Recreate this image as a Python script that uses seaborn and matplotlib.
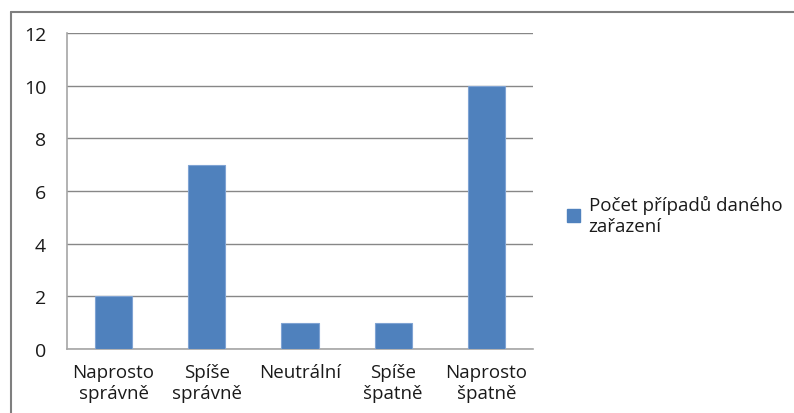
import matplotlib
matplotlib.use("Agg")
import matplotlib.pyplot as plt
import numpy as np
import pandas as pd
import seaborn as sns
from matplotlib.lines import Line2D
from matplotlib.patches import Patch

categories = ["Naprosto\nsprávně", "Spíše\nsprávně", "Neutrální", "Spíše\nšpatně", "Naprosto\nšpatně"]
counts = [2, 7, 1, 1, 10]
series_label = "Počet případů daného\nzařazení"
y_ticks = [0, 2, 4, 6, 8, 10, 12]

df = pd.DataFrame({"kategorie": categories, "pocet": counts})

sns.set_style("white")
plt.rcParams["font.family"] = ["Open Sans", "DejaVu Sans"]

bar_color = "#4F81BD"
grid_color = "#878787"
axis_color = "#A6A6A6"
text_color = "#1a1a1a"

fig = plt.figure(figsize=(7.94, 4.14), dpi=100)
ax = fig.add_axes([67 / 794, 64 / 414, 466 / 794, 316 / 414])

sns.barplot(data=df, x="kategorie", y="pocet", color=bar_color, width=0.4,
            edgecolor="#7FA3D3", linewidth=0.8, saturation=1, ax=ax, zorder=3)

ax.set_xlim(-0.5, len(categories) - 0.5)
ax.set_ylim(0, 12)
ax.set_yticks(y_ticks)
ax.yaxis.grid(True, color=grid_color, linewidth=1.0, zorder=0)
ax.set_axisbelow(True)
ax.set_xlabel("")
ax.set_ylabel("")

for side in ["top", "right"]:
    ax.spines[side].set_visible(False)
for side in ["left", "bottom"]:
    ax.spines[side].set_color(axis_color)
    ax.spines[side].set_linewidth(1.2)

ax.tick_params(axis="y", length=4, color=grid_color, pad=11, labelsize=14, labelcolor=text_color)
ax.tick_params(axis="x", which="major", length=0, pad=10, labelsize=13.5, labelcolor=text_color)
ax.set_xticks(np.arange(-0.5, len(categories)), minor=True)
ax.tick_params(axis="x", which="minor", length=4, color=axis_color, width=1.2)
for lbl in ax.get_xticklabels():
    lbl.set_linespacing(1.25)

handle = Patch(facecolor=bar_color, edgecolor=bar_color)
leg = fig.legend([handle], [series_label], loc="center left",
                 bbox_to_anchor=(567 / 794, 1 - 216 / 414), frameon=False,
                 fontsize=13.5, handlelength=0.7, handleheight=0.7, handletextpad=0.45,
                 borderpad=0, borderaxespad=0)
for t in leg.get_texts():
    t.set_color(text_color)
    t.set_linespacing(1.25)

# chart frame (only top and left edges visible in the crop)
fig.add_artist(Line2D([11 / 794, 1], [1 - 13 / 414, 1 - 13 / 414], color="#7F7F7F", linewidth=1.5, transform=fig.transFigure))
fig.add_artist(Line2D([11 / 794, 11 / 794], [0, 1 - 13 / 414], color="#7F7F7F", linewidth=1.5, transform=fig.transFigure))

fig.savefig("out.png", dpi=100)
